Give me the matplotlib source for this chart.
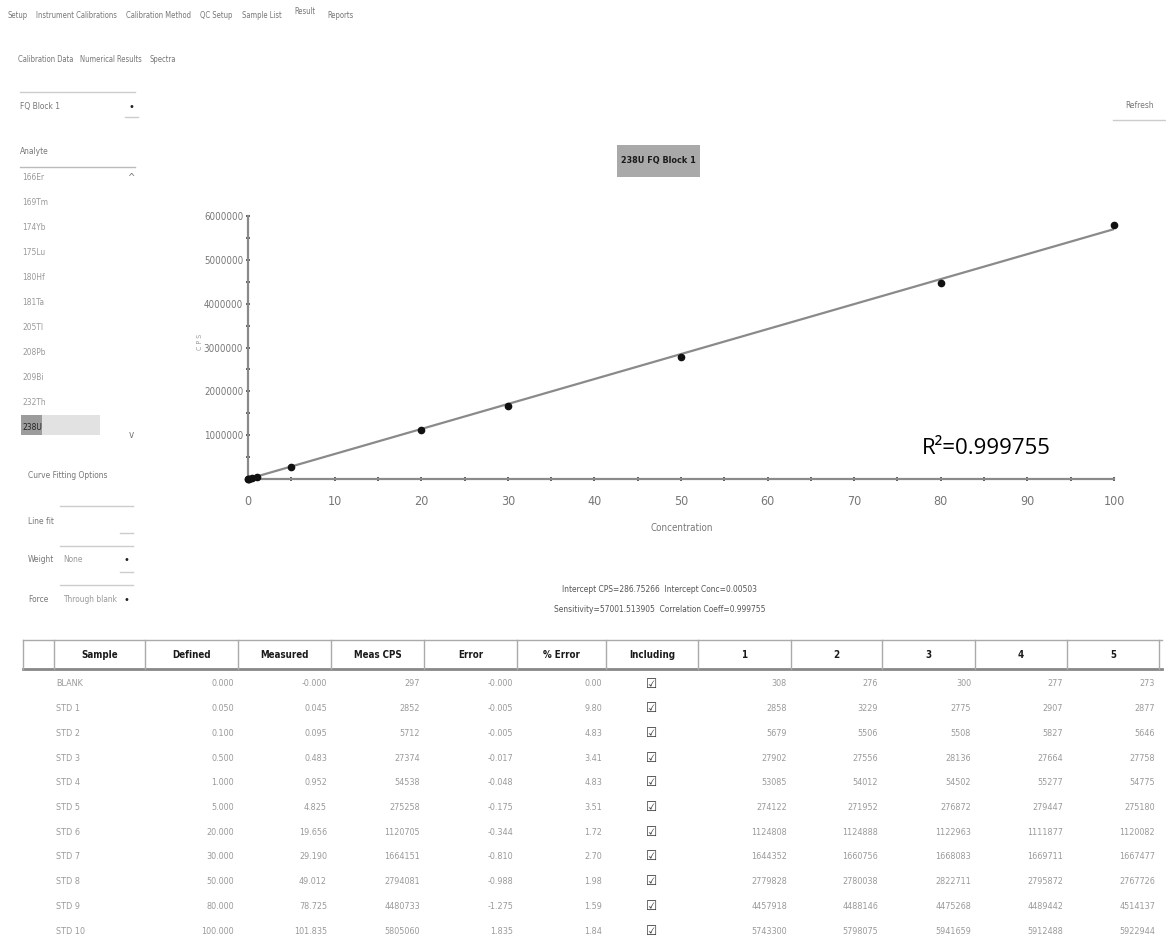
import matplotlib
matplotlib.use('Agg')
import matplotlib.pyplot as plt
from matplotlib.patches import Rectangle

plt.rcParams['font.family'] = ['DejaVu Sans']
plt.rcParams['font.stretch'] = 'condensed'

W, H = 1166, 942

# ---- data ----
menu_items = ['Setup', 'Instrument Calibrations', 'Calibration Method', 'QC Setup',
              'Sample List', 'Result', 'Reports']
sub_tabs = ['Calibration Data', 'Numerical Results', 'Spectra']
analytes = ['166Er', '169Tm', '174Yb', '175Lu', '180Hf', '181Ta', '205Tl',
            '208Pb', '209Bi', '232Th', '238U']

samples = ['BLANK', 'STD 1', 'STD 2', 'STD 3', 'STD 4', 'STD 5', 'STD 6',
           'STD 7', 'STD 8', 'STD 9', 'STD 10']
defined = [0.0, 0.05, 0.1, 0.5, 1.0, 5.0, 20.0, 30.0, 50.0, 80.0, 100.0]
measured = [-0.0, 0.045, 0.095, 0.483, 0.952, 4.825, 19.656, 29.190, 49.012, 78.725, 101.835]
meas_cps = [297, 2852, 5712, 27374, 54538, 275258, 1120705, 1664151, 2794081, 4480733, 5805060]
error = [-0.0, -0.005, -0.005, -0.017, -0.048, -0.175, -0.344, -0.810, -0.988, -1.275, 1.835]
pct_error = [0.00, 9.80, 4.83, 3.41, 4.83, 3.51, 1.72, 2.70, 1.98, 1.59, 1.84]
rep1 = [308, 2858, 5679, 27902, 53085, 274122, 1124808, 1644352, 2779828, 4457918, 5743300]
rep2 = [276, 3229, 5506, 27556, 54012, 271952, 1124888, 1660756, 2780038, 4488146, 5798075]
rep3 = [300, 2775, 5508, 28136, 54502, 276872, 1122963, 1668083, 2822711, 4475268, 5941659]
rep4 = [277, 2907, 5827, 27664, 55277, 279447, 1111877, 1669711, 2795872, 4489442, 5912488]
rep5 = [273, 2877, 5646, 27758, 54775, 275180, 1120082, 1667477, 2767726, 4514137, 5922944]

intercept_cps = 286.75266
intercept_conc = 0.00503
sensitivity = 57001.513905
corr_coeff = 0.999755
r_squared = 0.999755

x_ticks = list(range(0, 101, 10))
y_ticks = [1000000, 2000000, 3000000, 4000000, 5000000, 6000000]

fig = plt.figure(figsize=(W / 100, H / 100), dpi=100)

# full-figure overlay in pixel coords for the UI bits
ui = fig.add_axes([0, 0, 1, 1])
ui.set_xlim(0, W)
ui.set_ylim(H, 0)
ui.axis('off')

grey = '#777777'
light = '#9a9a9a'
fs = 6

# top menu
menu_x = [8, 36, 126, 200, 242, 294, 327]
for lbl, x in zip(menu_items, menu_x):
    ui.text(x, 15 if lbl != 'Result' else 12, lbl, fontsize=5.5, color=grey, va='center')
tab_x = [18, 80, 150]
for lbl, x in zip(sub_tabs, tab_x):
    ui.text(x, 60, lbl, fontsize=5.5, color=grey, va='center')

# dropdown
ui.plot([20, 135], [92, 92], color='#cccccc', lw=1)
ui.text(20, 107, 'FQ Block 1', fontsize=fs, color=grey, va='center')
ui.text(131, 107, '\u2022', fontsize=8, color='#222222', ha='center', va='center')
ui.plot([125, 138], [117, 117], color='#cccccc', lw=1)

ui.text(1140, 105, 'Refresh', fontsize=fs, color=grey, ha='center', va='center')
ui.plot([1113, 1166], [120, 120], color='#cccccc', lw=1)

# analyte list
ui.text(20, 152, 'Analyte', fontsize=fs, color=grey, va='center')
ui.plot([20, 135], [167, 167], color='#bbbbbb', lw=1)
ui.add_patch(Rectangle((21, 415), 21, 20, color='#9c9c9c', lw=0))
ui.add_patch(Rectangle((42, 415), 58, 20, color='#e2e2e2', lw=0))
for i, a in enumerate(analytes):
    y = 178 + i * 24.9
    ui.text(22, y, a, fontsize=fs, color='#222222' if a == '238U' else light, va='center')
ui.text(131, 178, '^', fontsize=7, color=grey, ha='center', va='center')
ui.text(131, 435, 'v', fontsize=7, color=grey, ha='center', va='center')

# curve fitting options
ui.text(28, 476, 'Curve Fitting Options', fontsize=fs, color=grey, va='center')
ui.plot([60, 133], [506, 506], color='#cccccc', lw=1)
ui.text(28, 522, 'Line fit', fontsize=fs, color=grey, va='center')
ui.plot([120, 133], [533, 533], color='#cccccc', lw=1)
ui.plot([60, 133], [546, 546], color='#cccccc', lw=1)
ui.text(28, 560, 'Weight', fontsize=fs, color=grey, va='center')
ui.text(63, 560, 'None', fontsize=fs, color=light, va='center')
ui.text(126, 560, '\u2022', fontsize=8, color='#222222', ha='center', va='center')
ui.plot([120, 133], [572, 572], color='#cccccc', lw=1)
ui.plot([60, 133], [585, 585], color='#cccccc', lw=1)
ui.text(28, 600, 'Force', fontsize=fs, color=grey, va='center')
ui.text(63, 600, 'Through blank', fontsize=fs, color=light, va='center')
ui.text(126, 600, '\u2022', fontsize=8, color='#222222', ha='center', va='center')

# chart title box
ui.add_patch(Rectangle((617, 145), 83, 32, color='#a9a9a9', lw=0))
ui.text(658, 161, '238U FQ Block 1', fontsize=6.5, color='#1a1a1a', weight='bold',
        ha='center', va='center')

ui.text(200, 342, 'C P S', fontsize=5, color=light, rotation=90, ha='center', va='center')
ui.text(682, 528, 'Concentration', fontsize=7, color=grey, ha='center', va='center')
ui.text(922, 448, 'R\u00b2=%.6f' % r_squared, fontsize=16, color='black',
        family='Open Sans', stretch='normal', va='center')

ui.text(660, 590, 'Intercept CPS=%.5f  Intercept Conc=%.5f' % (intercept_cps, intercept_conc),
        fontsize=6, color='#555555', ha='center', va='center')
ui.text(660, 610, 'Sensitivity=%.6f  Correlation Coeff=%.6f' % (sensitivity, corr_coeff),
        fontsize=6, color='#555555', ha='center', va='center')

# ---- calibration chart ----
ax = fig.add_axes([248 / W, 1 - 479 / H, (1114 - 248) / W, (479 - 216) / H])
ax.patch.set_alpha(0)
ax.set_xlim(0, 100)
ax.set_ylim(0, 6000000)
for s in ['top', 'right']:
    ax.spines[s].set_visible(False)
for s in ['left', 'bottom']:
    ax.spines[s].set_color('#8a8a8a')
    ax.spines[s].set_linewidth(1.6)

ax.plot([0, 100], [intercept_cps, intercept_cps + 100 * sensitivity], color='#8a8a8a', lw=1.6)
ax.plot(defined, meas_cps, 'o', color='#111111', ms=4.5, clip_on=False, zorder=3)

ax.set_xticks(x_ticks)
ax.set_xticklabels([str(t) for t in x_ticks])
ax.set_xticks([t + 5 for t in x_ticks[:-1]], minor=True)
ax.set_yticks(y_ticks)
ax.set_yticklabels([str(t) for t in y_ticks])
ax.set_yticks([t - 500000 for t in y_ticks], minor=True)
ax.tick_params(which='both', direction='inout', length=3, color='#444444', width=1.2)
ax.tick_params(axis='x', labelsize=9, labelcolor=grey, pad=10)
ax.tick_params(axis='y', labelsize=7, labelcolor=grey, pad=2)

# ---- results table ----
col_edges = [23, 54, 145, 238, 331, 424, 517, 606, 698, 791, 882, 975, 1067, 1159]
headers = ['', 'Sample', 'Defined', 'Measured', 'Meas CPS', 'Error', '% Error',
           'Including', '1', '2', '3', '4', '5']
ui.plot([23, 1162], [640, 640], color='#aaaaaa', lw=1)
ui.plot([23, 1162], [669, 669], color='#888888', lw=2)
for x in col_edges:
    ui.plot([x, x], [640, 669], color='#aaaaaa', lw=1)
for i, h in enumerate(headers):
    xc = (col_edges[i] + col_edges[i + 1]) / 2
    ui.text(xc, 655, h, fontsize=7, color='#1a1a1a', weight='bold', ha='center', va='center')

columns = [
    ['%.3f' % v for v in defined],
    ['%.3f' % v for v in measured],
    [str(v) for v in meas_cps],
    ['%.3f' % v for v in error],
    ['%.2f' % v for v in pct_error],
]
reps = [rep1, rep2, rep3, rep4, rep5]
for r in range(len(samples)):
    y = 684 + r * 24.7
    ui.text(56, y, samples[r], fontsize=6.5, color=light, va='center')
    for c, col in enumerate(columns):
        ui.text(col_edges[c + 3] - 4, y, col[r], fontsize=6.5, color=light, ha='right', va='center')
    ui.text((col_edges[7] + col_edges[8]) / 2, y, '\u2611', fontsize=9, color='#333333',
            stretch='normal', ha='center', va='center')
    for k, rep in enumerate(reps):
        ui.text(col_edges[k + 9] - 4, y, str(rep[r]), fontsize=6.5, color=light,
                ha='right', va='center')

fig.savefig('out.png', dpi=100)
